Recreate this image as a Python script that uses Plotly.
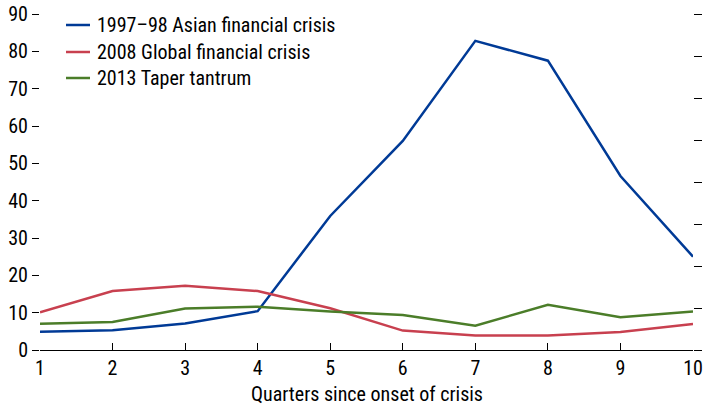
import plotly.graph_objects as go

quarters = [1, 2, 3, 4, 5, 6, 7, 8, 9, 10]
asian_1997 = [4.9, 5.3, 7.1, 10.4, 35.9, 56.0, 82.8, 77.5, 46.6, 25.0]
global_2008 = [10.1, 15.8, 17.2, 15.8, 11.2, 5.2, 3.9, 3.9, 4.8, 7.0]
taper_2013 = [7.0, 7.5, 11.1, 11.6, 10.3, 9.4, 6.5, 12.1, 8.8, 10.3]

series_names = ["1997–98 Asian financial crisis", "2008 Global financial crisis", "2013 Taper tantrum"]
colors = ["#003A96", "#C8404F", "#4B7D29"]
x_title = "Quarters since onset of crisis"

FONT = "Liberation Sans Narrow, Arial Narrow, Roboto Condensed, Liberation Sans, Arial, sans-serif"
FS = 20

W, H = 704, 407
ML, MR, MT, MB = 40, 11, 14, 57
PW, PH = W - ML - MR, H - MT - MB


def px_to_paper_x(px):
    return (px - ML) / PW


def px_to_paper_y(py):
    return 1 - (py - MT) / PH


fig = go.Figure()
for name, vals, col in zip(series_names, [asian_1997, global_2008, taper_2013], colors):
    fig.add_trace(go.Scatter(x=quarters, y=vals, name=name, mode="lines",
                             line=dict(color=col, width=2.5), showlegend=False))

# invisible trace for the right-hand axis
fig.add_trace(go.Scatter(x=[quarters[0]], y=[0], yaxis="y2", mode="lines",
                         line=dict(width=0), showlegend=False, hoverinfo="skip"))

# manual legend (layout decoration)
shapes = []
annotations = []
legend_rows_px = [25, 52, 78]
for name, col, rowy in zip(series_names, colors, legend_rows_px):
    yy = px_to_paper_y(rowy)
    shapes.append(dict(type="line", xref="paper", yref="paper",
                       x0=px_to_paper_x(66), x1=px_to_paper_x(90), y0=yy, y1=yy,
                       line=dict(color=col, width=2.5)))
    annotations.append(dict(text=name, xref="paper", yref="paper",
                            x=px_to_paper_x(95), y=yy, xanchor="left", yanchor="middle",
                            showarrow=False, font=dict(size=FS)))

annotations.append(dict(text=x_title, xref="paper", yref="paper", x=0.5, y=0,
                        yshift=-44, xanchor="center", yanchor="middle",
                        showarrow=False, font=dict(size=FS)))

fig.update_layout(
    width=W, height=H,
    margin=dict(l=ML, r=MR, t=MT, b=MB, autoexpand=False),
    paper_bgcolor="white", plot_bgcolor="white",
    font=dict(family=FONT, size=FS, color="black"),
    showlegend=False,
    xaxis=dict(range=[1, 10], tickmode="linear", tick0=1, dtick=1,
               ticks="inside", ticklen=7, tickcolor="black", tickwidth=1,
               showline=True, linecolor="black", linewidth=1,
               showgrid=False, zeroline=False, automargin=False),
    yaxis=dict(range=[0, 90], tickmode="linear", tick0=0, dtick=10,
               ticks="outside", ticklen=7, tickcolor="black", tickwidth=1,
               showline=False, showgrid=False, zeroline=False, automargin=False),
    yaxis2=dict(range=[0, 80], tickmode="linear", tick0=0, dtick=10,
                overlaying="y", side="right", ticks="outside", ticklen=8,
                tickcolor="black", tickwidth=1, showticklabels=False,
                showline=False, showgrid=False, zeroline=False, automargin=False),
    shapes=shapes,
    annotations=annotations,
)

fig.write_html("out.html", config={"displayModeBar": False},
               post_script="document.body.style.margin='0';document.body.style.overflow='hidden';")
